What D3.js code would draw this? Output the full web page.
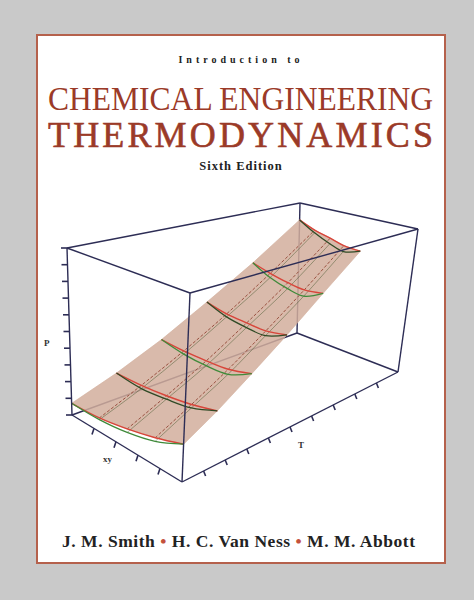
<!DOCTYPE html>
<html>
<head>
<meta charset="utf-8">
<script src="https://cdn.jsdelivr.net/npm/d3@7"></script>
<style>
  body { margin: 0; background: #c9c9c9; }
  svg { display: block; }
</style>
</head>
<body>
<div id="cover"></div>
<script>
// surface data: rows = xy values, columns = fraction of each row's T range
const xyVals = [0, 0.25, 0.5, 0.75, 1];
const tFrac = [0, 0.2, 0.4, 0.6, 0.8, 1];
const tMax = [0.75, 0.81, 0.88, 0.94, 1.0];
const bubbleP = [
    [0.20, 0.30, 0.43, 0.58, 0.76, 0.96],
    [0.15, 0.25, 0.37, 0.52, 0.70, 0.92],
    [0.11, 0.21, 0.33, 0.48, 0.66, 0.89],
    [0.08, 0.18, 0.30, 0.45, 0.64, 0.87],
    [0.07, 0.16, 0.28, 0.44, 0.63, 0.87]
];
const dewP = [
    [0.20, 0.30, 0.43, 0.58, 0.76, 0.96],
    [0.13, 0.23, 0.34, 0.49, 0.66, 0.88],
    [0.09, 0.19, 0.30, 0.45, 0.62, 0.85],
    [0.07, 0.16, 0.28, 0.43, 0.61, 0.85],
    [0.07, 0.16, 0.28, 0.44, 0.63, 0.87]
];
const pTicks = d3.range(0, 1.001, 0.1);
const xyTicks = [0.2, 0.4, 0.6, 0.8];
const tTicks = [0.1, 0.2, 0.3, 0.4, 0.5, 0.6, 0.7, 0.8, 0.9];
const authors = ["J. M. Smith", "H. C. Van Ness", "M. M. Abbott"];

const W = 474, H = 600;
const svg = d3.select("#cover").append("svg")
    .attr("width", W)
    .attr("height", H);

svg.append("rect").attr("width", W).attr("height", H).style("fill", "#c9c9c9");
svg.append("rect")
    .attr("x", 37).attr("y", 35).attr("width", 408).attr("height", 528)
    .style("fill", "#fff").style("stroke", "#b5614c").style("stroke-width", 2);

const red = "#9b3a28";
const serif = "'Liberation Serif', 'DejaVu Serif', serif";

svg.append("text").attr("x", 241).attr("y", 63).attr("text-anchor", "middle")
    .attr("font-family", serif).attr("font-weight", "bold").attr("font-size", 10)
    .attr("letter-spacing", 4).style("fill", "#222").text("Introduction to");
svg.append("text").attr("x", 48).attr("y", 110)
    .attr("textLength", 385).attr("lengthAdjust", "spacingAndGlyphs")
    .attr("font-family", serif).attr("font-size", 33).style("fill", red)
    .text("CHEMICAL ENGINEERING");
svg.append("text").attr("x", 48).attr("y", 147)
    .attr("textLength", 385).attr("lengthAdjust", "spacing")
    .attr("font-family", serif).attr("font-size", 36).style("fill", red)
    .style("stroke", red).style("stroke-width", 0.6)
    .text("THERMODYNAMICS");
svg.append("text").attr("x", 241).attr("y", 170).attr("text-anchor", "middle")
    .attr("font-family", serif).attr("font-weight", "bold").attr("font-size", 12.5)
    .attr("letter-spacing", 1).style("fill", "#222").text("Sixth Edition");

// projection: trilinear interpolation between the 8 drawn box corners
const corners = {
    "000": [182, 482], "100": [72, 415], "010": [398, 372], "110": [297, 333],
    "001": [190, 293], "101": [67, 248], "011": [418, 229], "111": [300, 203]
};
const xyScale = d3.scaleLinear().domain([0, 1]).range([0, 1]);
const tScale = d3.scaleLinear().domain([0, 1]).range([0, 1]);
const pScale = d3.scaleLinear().domain([0, 1]).range([0, 1]);
function proj(xy, t, p) {
    const a = xyScale(xy), b = tScale(t), c = pScale(p);
    let x = 0, y = 0;
    for (const k in corners) {
        const w = (k[0] === "1" ? a : 1 - a) * (k[1] === "1" ? b : 1 - b) * (k[2] === "1" ? c : 1 - c);
        x += w * corners[k][0];
        y += w * corners[k][1];
    }
    return [x, y];
}

const edgeColor = "#2d2d55";
const edge = (a, b) => [a, b];
const backEdges = [edge("110", "111"), edge("110", "100"), edge("110", "010")];
const frontEdges = [
    edge("000", "100"), edge("000", "010"), edge("010", "011"), edge("100", "101"),
    edge("101", "111"), edge("111", "011"), edge("101", "001"), edge("001", "011"),
    edge("000", "001")
];
function drawEdges(list) {
    svg.append("g").selectAll("line").data(list).join("line")
        .attr("x1", d => corners[d[0]][0]).attr("y1", d => corners[d[0]][1])
        .attr("x2", d => corners[d[1]][0]).attr("y2", d => corners[d[1]][1])
        .style("stroke", edgeColor).style("stroke-width", 1.4);
}
drawEdges(backEdges);

// surface patches
const pt = (i, j, table) => proj(xyVals[i], tFrac[j] * tMax[i], table[i][j]);
const patches = [];
for (let i = 0; i < xyVals.length - 1; i++)
    for (let j = 0; j < tFrac.length - 1; j++)
        patches.push([pt(i, j, bubbleP), pt(i + 1, j, bubbleP), pt(i + 1, j + 1, bubbleP), pt(i, j + 1, bubbleP)]);
const area = svg.append("g");
area.selectAll("path").data(patches).join("path")
    .attr("d", d => "M" + d.join("L") + "Z")
    .style("fill", "#d2ae9c").style("fill-opacity", 0.85)
    .style("stroke", "#d2ae9c").style("stroke-width", 0.6);

const curve = d3.line().curve(d3.curveCatmullRom);
// constant-composition lines along T
area.selectAll(".cx").data(xyVals.slice(1, -1).map((_, k) => k + 1)).join("path")
    .attr("d", i => curve(tFrac.map((_, j) => pt(i, j, bubbleP))))
    .style("fill", "none").style("stroke", "#8a3a2a").style("stroke-width", 0.8)
    .style("stroke-dasharray", "3,2");
area.selectAll(".cd").data(xyVals.slice(1, -1).map((_, k) => k + 1)).join("path")
    .attr("d", i => curve(tFrac.map((_, j) => pt(i, j, dewP))))
    .style("fill", "none").style("stroke", "#4a5a30").style("stroke-width", 0.7)
    .style("stroke-opacity", 0.7);
// isotherms: red bubble, green dew
area.selectAll(".bub").data(tFrac.map((_, j) => j)).join("path")
    .attr("d", j => curve(xyVals.map((_, i) => pt(i, j, bubbleP))))
    .style("fill", "none").style("stroke", "#d8453a").style("stroke-width", 1.4);
area.selectAll(".dew").data(tFrac.map((_, j) => j)).join("path")
    .attr("d", j => curve(xyVals.map((_, i) => pt(i, j, dewP))))
    .style("fill", "none").style("stroke", j => j % 2 ? "#2f4a25" : "#3f8a3a").style("stroke-width", 1.3);

drawEdges(frontEdges);

// ticks
const tick = (p, dx, dy) => [p, [p[0] + dx, p[1] + dy]];
const ticks = [
    ...pTicks.map(v => tick(proj(1, 0, v), -6, 0)),
    ...xyTicks.map(v => tick(proj(v, 0, 0), -2, 6)),
    ...tTicks.map(v => tick(proj(0, v, 0), 2, 5))
];
svg.append("g").selectAll("line").data(ticks).join("line")
    .attr("x1", d => d[0][0]).attr("y1", d => d[0][1])
    .attr("x2", d => d[1][0]).attr("y2", d => d[1][1])
    .style("stroke", edgeColor).style("stroke-width", 1.6);

const lbl = (x, y, s) => svg.append("text").attr("x", x).attr("y", y)
    .attr("font-family", serif).attr("font-weight", "bold").attr("font-size", 9)
    .style("fill", "#333").text(s);
lbl(44, 346, "P");
lbl(103, 462, "xy");
lbl(298, 448, "T");

// authors
const au = svg.append("text").attr("x", 62).attr("y", 547)
    .attr("textLength", 353).attr("lengthAdjust", "spacing")
    .attr("font-family", serif).attr("font-weight", "bold").attr("font-size", 17.5)
    .style("fill", "#222");
authors.forEach((a, k) => {
    if (k > 0) au.append("tspan").style("fill", "#c4513c").text("  \u2022  ");
    au.append("tspan").text(a);
});
</script>
</body>
</html>
